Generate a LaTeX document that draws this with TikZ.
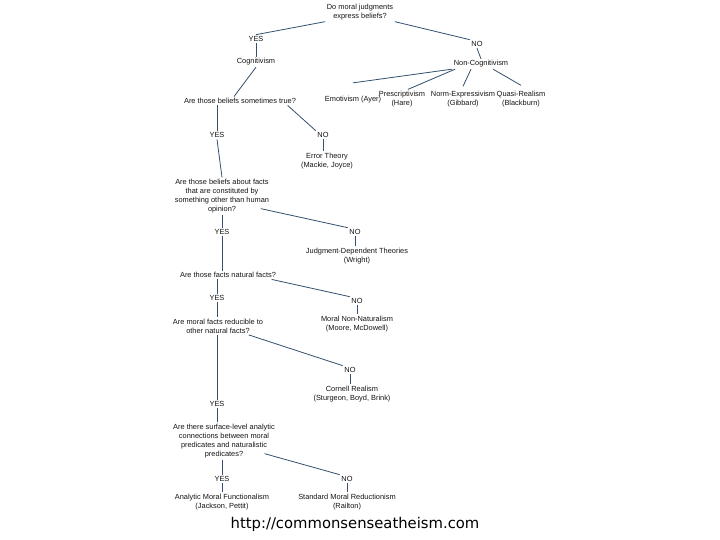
\documentclass[tikz,border=0pt]{standalone}
\usepackage{fontspec}
\setmainfont{Liberation Sans}
\newfontfamily\urlfont{DejaVu Sans}
\usepackage{tikz}

\definecolor{linkblue}{HTML}{34506E}
\definecolor{inkgray}{HTML}{151515}

\begin{document}
\begin{tikzpicture}[x=1pt, y=-1pt,
    txt/.style={align=center, inner sep=1.5pt, text=inkgray,
      font=\fontsize{7.4}{9}\selectfont},
    link/.style={draw=linkblue, line width=0.8pt}]
    \def\W{720}
    \def\H{540}

    \useasboundingbox (0,0) rectangle (\W,\H);
    \fill[white] (0,0) rectangle (\W,\H);



    \node[txt] (q0) at (360,12) {Do moral judgments\\express beliefs?};

    \node[txt] (yes1) at (256,39) {YES};
    \node[txt] (no1) at (477,44) {NO};

    \node[txt] (cog) at (256,62) {Cognitivism};
    \node[txt] (noncog) at (481,64) {Non-Cognitivism};



    \node[txt] (emot) at (353,100) {Emotivism (Ayer)};
    \node[txt] (presc) at (402,99) {Prescriptivism\\(Hare)};
    \node[txt] (normx) at (463,99) {Norm-Expressivism\\(Gibbard)};
    \node[txt] (quasi) at (521,99) {Quasi-Realism\\(Blackburn)};



    \node[txt] (q1) at (240,101) {Are those beliefs sometimes true?};

    \node[txt] (yes2) at (217,135) {YES};
    \node[txt] (no2) at (323,135) {NO};
    \node[txt] (err) at (327,161) {Error Theory\\(Mackie, Joyce)};

    \node[txt] (q2) at (222,196) {Are those beliefs about facts\\that are constituted by\\something other than human\\opinion?};

    \node[txt] (yes3) at (222,232) {YES};
    \node[txt] (no3) at (355,232) {NO};
    \node[txt] (jdt) at (357,256) {Judgment-Dependent Theories\\(Wright)};

    \node[txt] (q3) at (228,275) {Are those facts natural facts?};

    \node[txt] (yes4) at (217,298) {YES};
    \node[txt] (no4) at (357,301) {NO};
    \node[txt] (mnn) at (357,324) {Moral Non-Naturalism\\(Moore, McDowell)};

    \node[txt] (q4) at (218,326) {Are moral facts reducible to\\other natural facts?};

    \node[txt] (no5) at (350,370) {NO};
    \node[txt] (cr) at (352,394) {Cornell Realism\\(Sturgeon, Boyd, Brink)};
    \node[txt] (yes5) at (217,404) {YES};

    \node[txt] (q5) at (224,441) {Are there surface-level analytic\\connections between moral\\predicates and naturalistic\\predicates?};

    \node[txt] (yes6) at (222,479) {YES};
    \node[txt] (no6) at (347,479) {NO};
    \node[txt] (amf) at (222,502) {Analytic Moral Functionalism\\(Jackson, Pettit)};
    \node[txt] (smr) at (347,502) {Standard Moral Reductionism\\(Railton)};



    \node[text=black, font=\urlfont\fontsize{14.8}{16}\selectfont] (url) at (355,524)
    {http://commonsenseatheism.com};



    \draw[link] (q0.south west) -- (yes1.north);
    \draw[link] (q0.south east) -- (no1.north west);
    \draw[link] (yes1.south) -- (cog.north);
    \draw[link] (no1.south) -- (noncog.north);

    \draw[link] (noncog.south west) -- ([yshift=12pt]emot.north);
    \draw[link] ([xshift=3pt]noncog.south west) -- ([xshift=6pt]presc.north);
    \draw[link] ([xshift=-10pt]noncog.south) -- ([yshift=3pt]normx.north);
    \draw[link] ([xshift=12pt]noncog.south) -- ([yshift=4pt]quasi.north);

    \draw[link] (cog.south) -- ([xshift=-6pt]q1.north);
    \draw[link] (yes2.north |- q1.south) -- (yes2.north);
    \draw[link] ([xshift=-10pt]q1.south east) -- (no2.north west);
    \draw[link] (no2.south) -- (no2.south |- err.north);

    \draw[link] (yes2.south) -- (q2.north);
    \draw[link] (q2.south) -- (yes3.north);
    \draw[link] ([xshift=-10pt, yshift=6pt]q2.south east) -- (no3.north west);
    \draw[link] (no3.south) -- (no3.south |- jdt.north);

    \draw[link] (yes3.south) -- (yes3.south |- q3.north);
    \draw[link] (yes4.north |- q3.south) -- (yes4.north);
    \draw[link] ([xshift=-6pt]q3.south east) -- (no4.north west);
    \draw[link] (no4.south) -- (mnn.north);

    \draw[link] (yes4.south) -- (yes4.south |- q4.north);
    \draw[link] (yes5.north |- q4.south) -- (yes5.north);
    \draw[link] ([xshift=-16pt]q4.south east) -- (no5.north west);
    \draw[link] (no5.south) -- (no5.south |- cr.north);

    \draw[link] (yes5.south) -- (yes5.south |- q5.north);
    \draw[link] (yes6.north |- q5.south) -- (yes6.north);
    \draw[link] ([xshift=-12pt, yshift=6pt]q5.south east) -- (no6.north west);
    \draw[link] (yes6.south) -- (amf.north);
    \draw[link] (no6.south) -- (smr.north);
  \end{tikzpicture}
\end{document}
